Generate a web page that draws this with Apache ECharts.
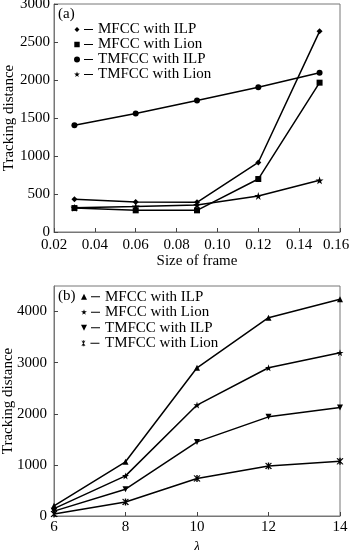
<!DOCTYPE html>
<html>
<head>
<meta charset="utf-8">
<script src="https://cdn.jsdelivr.net/npm/echarts@6/dist/echarts.min.js"></script>
<style>html,body{margin:0;padding:0;background:#fff}#c{width:350px;height:550px}</style>
</head>
<body>
<div id="c"></div>
<script>
// ---- data: panel (a) ----
const xA = [0.03, 0.06, 0.09, 0.12, 0.15];
const aMfccIlp   = [430, 395, 390, 915, 2640];
const aMfccLion  = [315, 285, 285, 697, 1965];
const aTmfccIlp  = [1405, 1560, 1730, 1905, 2095];
const aTmfccLion = [320, 335, 355, 475, 680];
const xTicksA = [0.02, 0.04, 0.06, 0.08, 0.10, 0.12, 0.14, 0.16];
// ---- data: panel (b) ----
const xB = [6, 8, 10, 12, 14];
const bMfccIlp   = [200, 1060, 2900, 3880, 4240];
const bMfccLion  = [145, 785, 2170, 2900, 3195];
const bTmfccIlp  = [95, 525, 1450, 1940, 2125];
const bTmfccLion = [40, 275, 735, 980, 1070];
const names = ['MFCC with ILP', 'MFCC with Lion', 'TMFCC with ILP', 'TMFCC with Lion'];

const FONT = 'Liberation Serif';
const STAR = 'path://M50,0 L61,35 L98,35 L68,57 L79,91 L50,70 L21,91 L32,57 L2,35 L39,35 Z';
const ASTER = 'path://M44,0 L56,0 L56,100 L44,100 Z M19.8,9.7 L30.2,3.7 L80.2,90.3 L69.8,96.3 Z M69.8,3.7 L80.2,9.7 L30.2,96.3 L19.8,90.3 Z';
const DASH = ' M100,26 L190,26 L190,36 L100,36 Z';
const icDiamond = 'path://M5,30 L30,5 L55,30 L30,55 Z M0,0 L0,0 M0,60 L0,60' + DASH;
const icSquare = 'path://M3,3 L57,3 L57,57 L3,57 Z M0,0 L0,0 M0,60 L0,60' + DASH;
const icCircle = 'path://M0,30 A30,30 0 1,1 60,30 A30,30 0 1,1 0,30 Z' + DASH;
const icStar = 'path://M30,0 L36.6,21 L58.8,21 L40.8,34.2 L47.4,54.6 L30,42 L12.6,54.6 L19.2,34.2 L1.2,21 L23.4,21 Z M0,60 L0,60' + DASH;
const icTriUp = 'path://M30,0 L60,60 L0,60 Z' + DASH;
const icTriDown = 'path://M0,0 L60,0 L30,60 Z' + DASH;
const icAster = 'path://M26,0 L34,0 L34,60 L26,60 Z M11,6 L17,2 L49,56 L43,60 Z M43,2 L49,6 L17,60 L11,56 Z' + DASH;

const pair = (xs, ys) => xs.map((x, i) => [x, ys[i]]);
function line(name, xs, ys, symbol, size, idx) {
  return {
    type: 'line', name, data: pair(xs, ys), xAxisIndex: idx, yAxisIndex: idx,
    symbol, symbolSize: size, showSymbol: true,
    lineStyle: { color: '#000', width: 1.5 },
    itemStyle: { color: '#000' },
    emphasis: { disabled: true }, animation: false
  };
}

const axisCommon = {
  axisLine: { show: true, lineStyle: { color: '#777', width: 1 } },
  axisTick: { show: true, inside: true, length: 4, lineStyle: { color: '#444' } },
  splitLine: { show: false },
  nameMoveOverlap: false,
  nameTextStyle: { fontFamily: FONT, fontSize: 15, color: '#000' }
};
const lbl = (extra) => Object.assign({ fontFamily: FONT, fontSize: 15, color: '#000', formatter: v => String(v) }, extra);
const lastA = xTicksA[xTicksA.length - 1];

const chart = echarts.init(document.getElementById('c'), null, { renderer: 'canvas' });
chart.setOption({
  backgroundColor: '#fff',
  animation: false,
  title: [
    { text: '(a)', left: 58, top: 7, textStyle: { fontFamily: FONT, fontSize: 15, fontWeight: 'normal', color: '#000' }, padding: 0 },
    { text: '(b)', left: 58, top: 289, textStyle: { fontFamily: FONT, fontSize: 15, fontWeight: 'normal', color: '#000' }, padding: 0 }
  ],
  grid: [
    { left: 54, right: 10, top: 4, height: 228, show: true, borderColor: '#777', borderWidth: 1, containLabel: false, outerBoundsMode: 'none' },
    { left: 54, right: 10, top: 286, height: 230, show: true, borderColor: '#777', borderWidth: 1, containLabel: false, outerBoundsMode: 'none' }
  ],
  legend: [
    {
      orient: 'vertical', left: 74, top: 22, itemWidth: 19, itemHeight: 6, itemGap: 0,
      selectedMode: false, padding: 0,
      textStyle: { fontFamily: FONT, fontSize: 15, color: '#000', lineHeight: 15 },
      data: [
        { name: names[0], icon: icDiamond },
        { name: names[1], icon: icSquare },
        { name: names[2], icon: icCircle },
        { name: names[3], icon: icStar }
      ]
    },
    {
      orient: 'vertical', left: 81, top: 289, itemWidth: 19, itemHeight: 6, itemGap: 0,
      selectedMode: false, padding: 0,
      textStyle: { fontFamily: FONT, fontSize: 15, color: '#000', lineHeight: 15.5 },
      data: [
        { name: names[0], icon: icTriUp },
        { name: names[1], icon: icStar },
        { name: names[2], icon: icTriDown },
        { name: names[3], icon: icAster }
      ]
    }
  ],
  xAxis: [
    Object.assign({}, axisCommon, {
      type: 'value', gridIndex: 0, min: xTicksA[0], max: lastA, interval: 0.02,
      name: 'Size of frame', nameLocation: 'middle', nameGap: 22,
      axisLabel: lbl({
        margin: 6,
        formatter: v => Math.abs(v - lastA) < 1e-9 ? '{m|' + v.toFixed(2) + '}' : v.toFixed(2),
        rich: { m: { fontFamily: FONT, fontSize: 15, color: '#000', padding: [0, 8, 0, 0] } }
      })
    }),
    Object.assign({}, axisCommon, {
      type: 'value', gridIndex: 1, min: 6, max: 14, interval: 2,
      name: 'λ', nameLocation: 'middle', nameGap: 24,
      nameTextStyle: { fontFamily: FONT, fontSize: 15, fontStyle: 'italic', color: '#000' },
      axisLabel: lbl({ margin: 4 })
    })
  ],
  yAxis: [
    Object.assign({}, axisCommon, {
      type: 'value', gridIndex: 0, min: 0, max: 3000, interval: 500,
      name: 'Tracking distance', nameLocation: 'middle', nameGap: 37,
      axisLabel: lbl({ margin: 4 })
    }),
    Object.assign({}, axisCommon, {
      type: 'value', gridIndex: 1, min: 0, max: 4500, interval: 1000,
      name: 'Tracking distance', nameLocation: 'middle', nameGap: 38,
      axisLabel: lbl({ margin: 7, showMaxLabel: false })
    })
  ],
  series: [
    line(names[0], xA, aMfccIlp, 'diamond', 6, 0),
    line(names[1], xA, aMfccLion, 'rect', 6, 0),
    line(names[2], xA, aTmfccIlp, 'circle', 6, 0),
    line(names[3], xA, aTmfccLion, STAR, 8, 0),
    line(names[0], xB, bMfccIlp, 'triangle', 6, 1),
    line(names[1], xB, bMfccLion, STAR, 7, 1),
    line(names[2], xB, bTmfccIlp, 'path://M0,0 L100,0 L50,100 Z', 6, 1),
    line(names[3], xB, bTmfccLion, ASTER, 7, 1)
  ]
});
</script>
</body>
</html>
